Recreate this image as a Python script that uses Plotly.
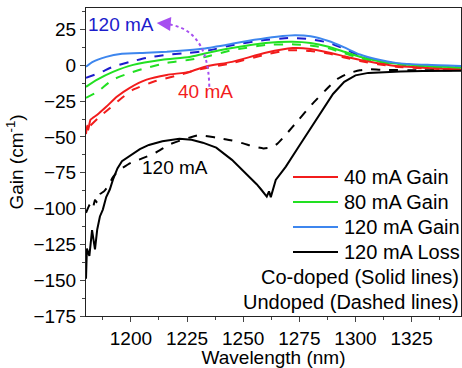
import plotly.graph_objects as go

# ---- data (wavelength in nm, gain in cm^-1) ----
wl_loss_co = [1180, 1180.4, 1181.5, 1182.7, 1184, 1185, 1186.2, 1187.5, 1189, 1190.6, 1192, 1194,
              1196, 1199.5, 1204, 1208, 1214, 1221.6, 1227, 1232, 1238, 1245, 1249, 1252.6, 1256,
              1258, 1259.5, 1260.5, 1261.5, 1262.3, 1264.5, 1269, 1274.7, 1280.5, 1285, 1290,
              1295, 1300, 1305.7, 1313, 1320, 1330, 1347]
loss_co = [-149, -128, -133, -115, -128.5, -114.6, -105.5, -100.7, -92, -86.7, -79.8, -72,
           -67, -63, -58.5, -55.6, -53, -51.2, -52, -54, -57.5, -66, -72, -78, -83,
           -86.7, -90, -91.6, -88, -92, -80, -70.7, -56.8, -42.8, -32, -20,
           -11.5, -7, -5.3, -4.6, -4.3, -4, -3.8]

wl_loss_un = [1180, 1181.8, 1183, 1184, 1185, 1186.2, 1188, 1190, 1192, 1195, 1200, 1205, 1211,
              1217, 1222, 1226, 1230.4, 1238, 1245, 1250, 1255, 1259, 1262, 1265, 1269, 1274.7,
              1280.5, 1286.6, 1292, 1297, 1302, 1306, 1313, 1330, 1347]
loss_un = [-103, -97, -100, -94, -96, -90, -88, -84, -78, -73, -68, -65, -61,
           -55.4, -52.5, -50.5, -48.8, -50.5, -52.5, -54.5, -56.8, -58, -57.5, -55, -48.4, -38,
           -27.5, -17.5, -9.5, -5.5, -3.5, -2.8, -3.2, -3.5, -3.5]

wl_g120_co = [1180, 1183, 1189, 1196, 1207, 1216, 1225, 1233, 1245, 1255, 1265, 1273, 1280, 1288,
              1295, 1302, 1310, 1318, 1332, 1347]
g120_co = [-1, 2.4, 5.9, 8, 8.7, 9.4, 10.5, 11.8, 15, 17.8, 20, 21, 20.3, 17, 12.5, 7.5, 4,
           1.7, 0.3, -0.5]

wl_g120_un = [1180, 1186, 1192, 1199.5, 1207, 1216, 1226, 1233.5, 1245, 1258, 1270, 1280, 1288,
              1295, 1302, 1310, 1318, 1332, 1347]
g120_un = [-8.7, -5.3, -1, 2.4, 5.2, 7.3, 8.7, 10, 14, 17.3, 19, 18.2, 15.8, 11.5, 6.8, 3.3,
           1.2, -0.2, -1]

wl_g80_co = [1180, 1185, 1192, 1201, 1214, 1226, 1233, 1245, 1260, 1272, 1280, 1288, 1295, 1302,
             1310, 1318, 1332, 1347]
g80_co = [-15, -10, -4.6, 0.3, 3.8, 5.8, 8.3, 12, 15.6, 16.5, 15.6, 13, 9.5, 6, 3, 1.2, -0.5, -1.5]

wl_g80_un = [1180, 1185, 1192, 1199.5, 1207, 1216, 1226, 1233.5, 1245, 1260, 1273, 1280, 1288,
             1295, 1302, 1310, 1318, 1332, 1347]
g80_un = [-22.7, -18.5, -10, -5.3, -1.8, 1.7, 3.8, 6, 10.5, 14.2, 14.6, 13.8, 11.8, 8.5, 5,
          2.2, 0.6, -1, -2]

wl_g40_co = [1180, 1180.5, 1181, 1182, 1185, 1189, 1193.7, 1199.5, 1207, 1216, 1226, 1233.5, 1245,
             1260, 1272, 1280, 1288, 1295, 1302, 1310, 1318, 1332, 1347]
g40_co = [-48, -42, -45, -38, -34.5, -29, -22, -15.7, -10, -6.7, -4.6, -0.8, 2.4,
          8.7, 12, 11.4, 9, 6.3, 3.8, 1.5, -0.5, -1.8, -3]

wl_g40_un = [1182, 1186, 1190.6, 1195, 1201, 1210, 1221.6, 1230, 1245, 1260, 1270, 1280, 1288,
             1295, 1302, 1310, 1318, 1332, 1347]
g40_un = [-42, -36, -30, -24, -17, -11.5, -6.7, -3, 1.5, 7.5, 10.5, 10, 8.3, 5.5, 3, 0.8,
          -1, -2.2, -3.5]

x_ticks = [1200, 1225, 1250, 1275, 1300, 1325]
y_ticks = [25, 0, -25, -50, -75, -100, -125, -150, -175]

legend_names = ["40 mA Gain", "80 mA Gain", "120 mA Gain", "120 mA Loss"]
note_lines = ["Co-doped (Solid lines)", "Undoped (Dashed lines)"]

FONT = "Liberation Sans, Arial, sans-serif"
RED = "#f21c1c"
GREEN = "#22e022"
LBLUE = "#3d86ee"
DBLUE = "#1c1ccc"
BLACK = "#000000"
PURPLE = "#a64ff0"
legend_colors = [RED, GREEN, LBLUE, BLACK]

# plot-area geometry (pixels) for placing the hand-drawn legend
W, H = 462, 368
ML, MR, MT, MB = 86, 1, 8, 52
PW, PH = W - ML - MR, H - MT - MB


def px_x(px):
    return (px - ML) / PW


def px_y(py):
    return (H - MB - py) / PH


fig = go.Figure()


def add(x, y, color, dash, smooth=True):
    fig.add_trace(go.Scatter(
        x=x, y=y, mode="lines", showlegend=False, hoverinfo="skip",
        line=dict(color=color, width=2, dash=dash,
                  shape="spline" if smooth else "linear", smoothing=0.5 if smooth else None),
    ))


# dashed (undoped)
add(wl_g40_un, g40_un, RED, "dash")
add(wl_g80_un, g80_un, GREEN, "dash")
add(wl_g120_un, g120_un, DBLUE, "dash")
add(wl_loss_un, loss_un, BLACK, "dash", smooth=True)
# solid (co-doped)
add(wl_g40_co, g40_co, RED, "solid")
add(wl_g80_co, g80_co, GREEN, "solid")
add(wl_g120_co, g120_co, LBLUE, "solid")
add(wl_loss_co, loss_co, BLACK, "solid", smooth=False)

shapes = [
    # purple dotted curved arrow
    dict(type="path", xref="x", yref="y", path="M 1234.9,-15 Q 1234.5,28 1213.5,29",
         line=dict(color=PURPLE, width=2, dash="dot")),
]

annotations = [
    dict(x=1211.5, y=29.6, xref="x", yref="y", text="", showarrow=True,
         ax=12, ay=1, arrowhead=2, arrowsize=1.4, arrowwidth=2, arrowcolor=PURPLE),
    dict(x=1195.7, y=28.2, xref="x", yref="y", text="120 mA", showarrow=False,
         font=dict(color=DBLUE, size=19, family=FONT)),
    dict(x=1233, y=-18.5, xref="x", yref="y", text="40 mA", showarrow=False,
         font=dict(color=RED, size=19, family=FONT)),
    dict(x=1219.8, y=-71.4, xref="x", yref="y", text="120 mA", showarrow=False,
         font=dict(color=BLACK, size=19, family=FONT)),
]

# legend (drawn by hand to match spacing)
for i, (name, col) in enumerate(zip(legend_names, legend_colors)):
    yy = 177 + 25 * i
    shapes.append(dict(type="line", xref="paper", yref="paper",
                       x0=px_x(293), x1=px_x(338), y0=px_y(yy), y1=px_y(yy),
                       line=dict(color=col, width=2)))
    annotations.append(dict(x=px_x(342), y=px_y(yy), xref="paper", yref="paper",
                            xanchor="left", yanchor="middle", text=name, showarrow=False,
                            font=dict(color=BLACK, size=20, family=FONT)))
for i, txt in enumerate(note_lines):
    yy = 277 + 25 * i
    annotations.append(dict(x=px_x(461), y=px_y(yy), xref="paper", yref="paper",
                            xanchor="right", yanchor="middle", text=txt, showarrow=False,
                            font=dict(color=BLACK, size=20, family=FONT)))

fig.update_layout(
    width=W, height=H,
    margin=dict(l=ML, r=MR, t=MT, b=MB),
    paper_bgcolor="white", plot_bgcolor="white",
    font=dict(family=FONT, size=19, color=BLACK),
    annotations=annotations, shapes=shapes, showlegend=False,
    xaxis=dict(range=[1180, 1347], tickvals=x_ticks, ticks="outside", ticklen=5,
               showline=True, linecolor="#222", linewidth=1, mirror=True, showgrid=False,
               zeroline=False, tickfont=dict(size=19),
               minor=dict(ticks="outside", ticklen=3, dtick=12.5, tick0=1187.5, showgrid=False),
               title=dict(text="Wavelength (nm)", font=dict(size=19), standoff=2)),
    yaxis=dict(range=[-175, 40], tickvals=y_ticks, ticks="outside", ticklen=5,
               showline=True, linecolor="#222", linewidth=1, mirror=True, showgrid=False,
               zeroline=False, tickfont=dict(size=19),
               minor=dict(ticks="outside", ticklen=3, dtick=12.5, tick0=12.5, showgrid=False),
               title=dict(text="Gain (cm<sup>-1</sup>)", font=dict(size=19), standoff=4)),
)

fig.write_html("out.html")
